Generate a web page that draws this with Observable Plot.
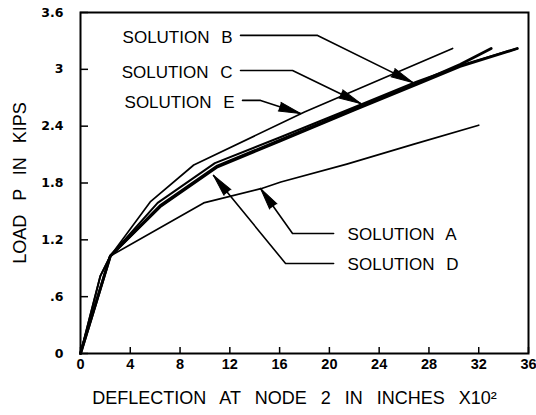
<!DOCTYPE html>
<html><head><meta charset="utf-8">
<script src="https://cdn.jsdelivr.net/npm/d3@7"></script>
<script src="https://cdn.jsdelivr.net/npm/@observablehq/plot@0.6"></script>
<style>
body{margin:0;background:#fff;}
#chart svg{font-family:"Liberation Sans",Arial,sans-serif;color:#000;}
</style></head><body><div id="chart"></div>
<script>
// ---- data ----
const xTicks = [0, 4, 8, 12, 16, 20, 24, 28, 32, 36];
const yTicks = [0, 0.6, 1.2, 1.8, 2.4, 3, 3.6];
const yTickLabels = ["0", ".6", "1.2", "1.8", "2.4", "3", "3.6"];
const xLabel = "DEFLECTION AT NODE 2 IN INCHES X10²";
const yLabel = "LOAD P IN KIPS";

const solutionAX = [0, 2.4, 9.9, 14.5, 16.1, 21.4, 26.8, 32.0];
const solutionAY = [0, 1.03, 1.59, 1.74, 1.81, 2.00, 2.21, 2.41];
const solutionEX = [0, 1.6, 2.4, 5.6, 9.1, 18.0, 29.9];
const solutionEY = [0, 0.82, 1.03, 1.60, 1.99, 2.55, 3.22];
const solutionBX = [0, 2.4, 6.4, 11, 16, 22, 27, 30.5, 33.0];
const solutionBY = [0, 1.03, 1.56, 1.98, 2.25, 2.58, 2.85, 3.05, 3.22];
const solutionCX = [0, 2.4, 6.4, 11, 16, 22, 27, 30.5, 35.1];
const solutionCY = [0, 1.03, 1.55, 1.97, 2.24, 2.57, 2.84, 3.03, 3.22];
const solutionDX = [0, 1.6, 2.4, 6.2, 10.8, 16, 22, 27, 31, 35.1];
const solutionDY = [0, 0.82, 1.03, 1.59, 2.01, 2.28, 2.60, 2.87, 3.06, 3.22];

const labelNames = ["SOLUTION B", "SOLUTION C", "SOLUTION E", "SOLUTION A", "SOLUTION D"];
const leaderBX = [12.86, 19.05, 26.69], leaderBY = [3.358, 3.358, 2.862];
const leaderCX = [12.86, 17.04, 22.51], leaderCY = [2.988, 2.988, 2.640];
const leaderEX = [13.02, 14.47, 17.68], leaderEY = [2.672, 2.672, 2.534];
const leaderAX = [20.34, 17.04, 14.47], leaderAY = [1.267, 1.267, 1.742];
const leaderDX = [20.34, 16.48, 10.69], leaderDY = [0.950, 0.950, 1.880];

// ---- build tables ----
const toRows = (xs, ys, s) => xs.map((x, i) => ({s, x, y: ys[i]}));
const A = toRows(solutionAX, solutionAY, "A");
const B = toRows(solutionBX, solutionBY, "B");
const C = toRows(solutionCX, solutionCY, "C");
const D = toRows(solutionDX, solutionDY, "D");
const E = toRows(solutionEX, solutionEY, "E");
const leaders = [
  toRows(leaderBX, leaderBY, labelNames[0]),
  toRows(leaderCX, leaderCY, labelNames[1]),
  toRows(leaderEX, leaderEY, labelNames[2]),
  toRows(leaderAX, leaderAY, labelNames[3]),
  toRows(leaderDX, leaderDY, labelNames[4])
];
const leaderRows = leaders.flat();
const labelsLeft = leaders.slice(0, 3).map(l => l[0]);
const labelsRight = leaders.slice(3).map(l => l[0]);

const W = 536, H = 415;
const base = {
  width: W, height: H,
  marginLeft: 80, marginRight: 8, marginTop: 12, marginBottom: 62,
  x: {domain: [0, 36]},
  y: {domain: [0, 3.6]}
};

function build(tips) {
  const marks = [
    Plot.frame({strokeWidth: 2}),
    Plot.axisX(xTicks, {tickSize: -6, tickPadding: 11, fontSize: 14.5, fontWeight: "bold",
      fontFamily: "Liberation Sans", label: null, strokeWidth: 1.5}),
    Plot.axisY(yTicks, {tickSize: -8, tickPadding: 25, fontSize: 12.5, fontWeight: "bold",
      fontFamily: "DejaVu Sans", label: null, strokeWidth: 1.5,
      tickFormat: d => yTickLabels[yTicks.indexOf(d)]}),
    Plot.line(A, {x: "x", y: "y", strokeWidth: 1.7}),
    Plot.line(E, {x: "x", y: "y", strokeWidth: 1.7}),
    Plot.line(D, {x: "x", y: "y", strokeWidth: 2}),
    Plot.line(B, {x: "x", y: "y", strokeWidth: 2.8}),
    Plot.line(C, {x: "x", y: "y", strokeWidth: 2.8}),
    Plot.line(leaderRows, {x: "x", y: "y", z: "s", strokeWidth: 1.6, curve: "linear"}),
    Plot.text(labelsLeft, {x: "x", y: "y", text: "s", textAnchor: "end", dx: -8, dy: 2,
      fontSize: 17, fontFamily: "Liberation Sans"}),
    Plot.text(labelsRight, {x: "x", y: "y", text: "s", textAnchor: "start", dx: 14, dy: 1,
      fontSize: 17, fontFamily: "Liberation Sans"}),
    Plot.text([xLabel], {frameAnchor: "bottom", textAnchor: "middle", lineAnchor: "middle",
      dy: 45, dx: -10, fontSize: 18, fontFamily: "Liberation Sans"}),
    Plot.text([yLabel], {frameAnchor: "left", textAnchor: "middle", lineAnchor: "middle",
      dx: -60, rotate: -90, fontSize: 18, fontFamily: "Liberation Sans"})
  ];
  if (tips) {
    marks.push(Plot.vector(tips, {x: "x", y: "y", rotate: "rotate", length: 22, r: 4.5,
      shape: "spike", anchor: "end", fill: "black", stroke: "black", strokeWidth: 1}));
  }
  return Plot.plot({...base, marks});
}

const pre = build(null);
const sx = pre.scale("x"), sy = pre.scale("y");
const tips = leaders.map(l => {
  const p = l[l.length - 2], t = l[l.length - 1];
  const dx = sx.apply(t.x) - sx.apply(p.x), dy = sy.apply(t.y) - sy.apply(p.y);
  return {x: t.x, y: t.y, rotate: Math.atan2(dx, -dy) * 180 / Math.PI};
});
const chart = build(tips);
d3.select(chart).selectAll("text").each(function() {
  const t = this.textContent;
  if (t.startsWith("SOLUTION")) this.style.wordSpacing = "7px";
  else if (t === xLabel || t === yLabel) this.style.wordSpacing = "9px";
});
document.getElementById("chart").appendChild(chart);
</script></body></html>
